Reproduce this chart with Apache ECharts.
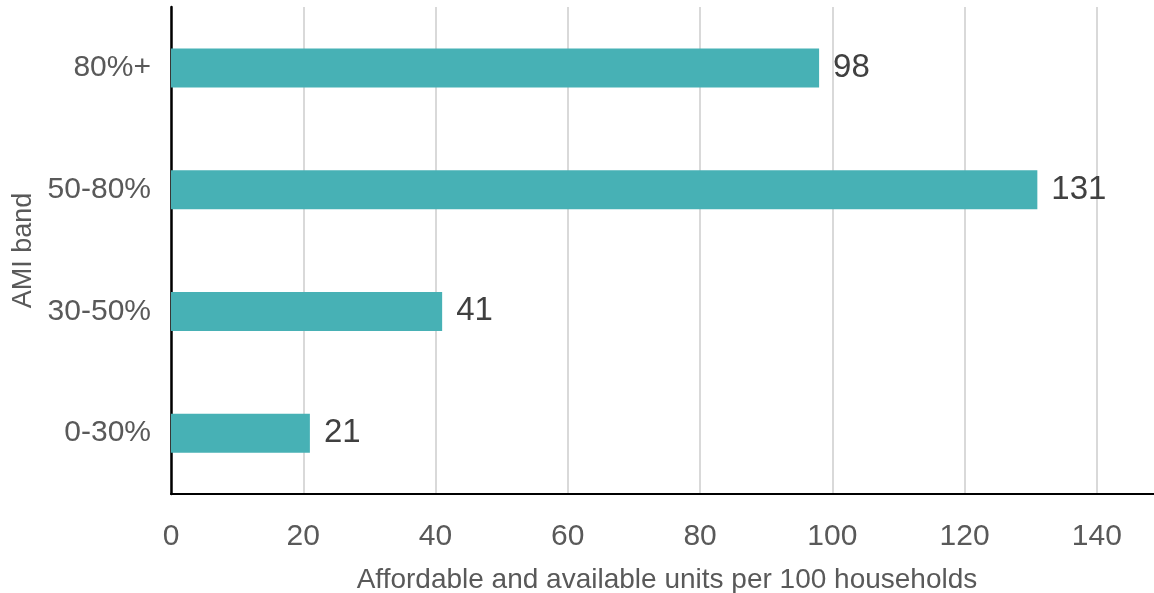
<!DOCTYPE html>
<html><head><meta charset="utf-8">
<script src="https://cdn.jsdelivr.net/npm/echarts@6/dist/echarts.min.js"></script>
<style>html,body{margin:0;padding:0;background:#fff}#c{width:1154px;height:593px}</style>
</head><body><div id="c"></div>
<script>
const categories = ['0-30%', '30-50%', '50-80%', '80%+'];
const values = [21, 41, 131, 98];
const xTicks = [0, 20, 40, 60, 80, 100, 120, 140];
const xTitle = 'Affordable and available units per 100 households';
const yTitle = 'AMI band';

const chart = echarts.init(document.getElementById('c'), null, {renderer: 'canvas'});
const font = '"Liberation Sans", Arial, sans-serif';
chart.setOption({
  animation: false,
  grid: {left: 171, top: 7, width: 992, height: 487, containLabel: false, outerBoundsMode: 'none'},
  xAxis: {
    type: 'value', min: 0, max: 150, interval: 20,
    name: xTitle, nameLocation: 'middle', nameGap: 72,
    nameTextStyle: {fontFamily: font, fontSize: 28, color: '#595959'},
    axisLine: {show: true, lineStyle: {color: '#000', width: 2}},
    axisTick: {show: false},
    axisLabel: {fontFamily: font, fontSize: 30, color: '#595959', margin: 28,
      formatter: v => xTicks.includes(v) ? String(v) : ''},
    splitLine: {show: true, lineStyle: {color: '#d9d9d9', width: 2}}
  },
  yAxis: {
    type: 'category', data: categories,
    name: yTitle, nameLocation: 'middle', nameGap: 133, nameRotate: 90,
    nameTextStyle: {fontFamily: font, fontSize: 27, color: '#595959'},
    axisLine: {show: true, lineStyle: {color: '#000', width: 2.5}},
    axisTick: {show: false},
    axisLabel: {fontFamily: font, fontSize: 30, color: '#595959', margin: 20},
    splitLine: {show: false}
  },
  series: [{
    type: 'bar', data: values, barWidth: 39,
    itemStyle: {color: '#47B1B5'},
    label: {show: true, position: 'right', distance: 14, fontFamily: font, fontSize: 33, color: '#404040'}
  }]
});
</script></body></html>
